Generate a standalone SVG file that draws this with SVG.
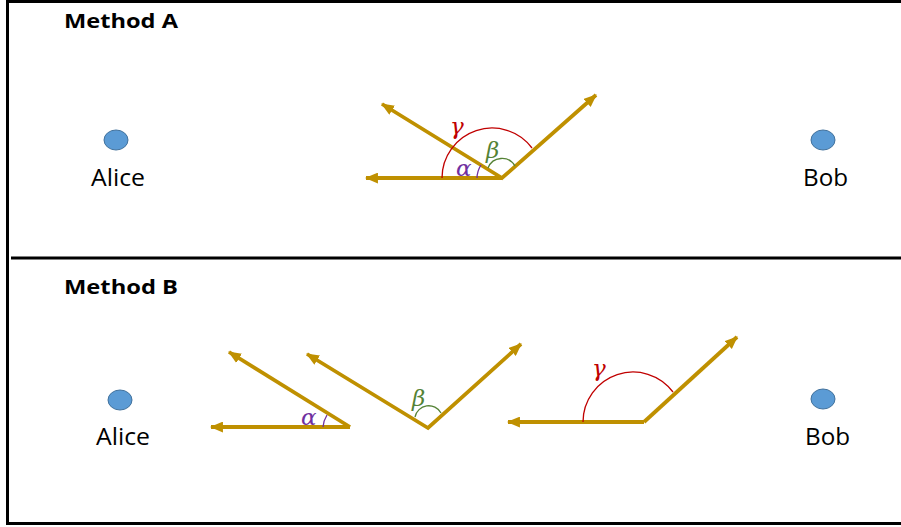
<svg xmlns="http://www.w3.org/2000/svg" width="901" height="527" viewBox="0 0 901 527">
<style>
.frame{stroke:#000;stroke-width:3;fill:none}
.arr{stroke:#BF9000;stroke-width:3.8;fill:none;stroke-linejoin:miter;marker-end:url(#ah)}
.v{stroke:#BF9000;stroke-width:3.8;fill:none;stroke-linejoin:miter;marker-start:url(#ahs);marker-end:url(#ah)}
.dot{fill:#5B9BD5;stroke:#41719C;stroke-width:1}
.name{font-family:"Open Sans","Liberation Sans",sans-serif;font-size:23px;fill:#000}
.title{font-family:"Open Sans","Liberation Sans",sans-serif;font-size:20px;font-weight:bold;fill:#000}
.greek{font-family:"DejaVu Serif","Liberation Serif",serif;font-style:italic;font-size:23px}
.ga{stroke:#C00000;stroke-width:1.3;fill:none}
.be{stroke:#548235;stroke-width:1.3;fill:none}
.al{stroke:#7030A0;stroke-width:1.3;fill:none}
</style>
<defs>
<marker id="ah" viewBox="0 0 12 10" refX="11" refY="5" markerWidth="13" markerHeight="11" markerUnits="userSpaceOnUse" orient="auto"><path d="M0,0 L12,5 L0,10 z" fill="#BF9000"/></marker>
<marker id="ahs" viewBox="0 0 12 10" refX="11" refY="5" markerWidth="13" markerHeight="11" markerUnits="userSpaceOnUse" orient="auto-start-reverse"><path d="M0,0 L12,5 L0,10 z" fill="#BF9000"/></marker>
</defs>
<rect width="901" height="527" fill="#fff"/>
<g id="frame">
<line class="frame" x1="6" y1="1.5" x2="901" y2="1.5"/>
<line class="frame" x1="7.5" y1="0" x2="7.5" y2="525"/>
<line class="frame" x1="6" y1="523.5" x2="901" y2="523.5"/>
<line class="frame" x1="11" y1="258" x2="901" y2="258"/>
</g>
<g id="titleA"><text class="title" x="64" y="28" textLength="114" lengthAdjust="spacingAndGlyphs">Method A</text></g>
<g id="titleB"><text class="title" x="64" y="294" textLength="114" lengthAdjust="spacingAndGlyphs">Method B</text></g>
<g id="aliceA"><ellipse class="dot" cx="116" cy="140" rx="12" ry="10"/><text class="name" x="91" y="186" textLength="54" lengthAdjust="spacingAndGlyphs">Alice</text></g>
<g id="bobA"><ellipse class="dot" cx="823" cy="140" rx="12" ry="10"/><text class="name" x="803" y="186" textLength="45" lengthAdjust="spacingAndGlyphs">Bob</text></g>
<g id="aliceB"><ellipse class="dot" cx="120" cy="400" rx="12" ry="10"/><text class="name" x="96" y="445" textLength="54" lengthAdjust="spacingAndGlyphs">Alice</text></g>
<g id="bobB"><ellipse class="dot" cx="823" cy="399" rx="12" ry="10"/><text class="name" x="805" y="445" textLength="45" lengthAdjust="spacingAndGlyphs">Bob</text></g>
<g id="connectors">
<line class="arr" x1="502" y1="178" x2="366" y2="178"/>
<polyline class="v" points="382,104 502,178 596,95"/>
<line class="arr" x1="350" y1="427" x2="211" y2="427"/>
<line class="arr" x1="350" y1="427" x2="229" y2="352"/>
<polyline class="v" points="307,354 428,428 521,344"/>
<line class="arr" x1="644" y1="422" x2="508" y2="422"/>
<line class="arr" x1="644" y1="422" x2="737" y2="337"/>
</g>
<g id="anglesA">
<path class="ga" d="M442,178 A50,50 0 0 1 532,148"/>
<path class="be" d="M488,168 A15,15 0 0 1 515,166"/>
<path class="al" d="M477,178 A25,25 0 0 1 481,165"/>
<text class="greek" x="450" y="134" fill="#C00000">γ</text>
<text class="greek" x="486" y="158" fill="#548235">β</text>
<text class="greek" x="456" y="176" fill="#7030A0">α</text>
</g>
<g id="anglesB">
<path class="al" d="M323,427 A27,27 0 0 1 327,415"/>
<path class="be" d="M415,417 A14,14 0 0 1 441,413"/>
<path class="ga" d="M583,422 A50,50 0 0 1 673,392"/>
<text class="greek" x="301" y="425" fill="#7030A0">α</text>
<text class="greek" x="412" y="406" fill="#548235">β</text>
<text class="greek" x="592" y="376" fill="#C00000">γ</text>
</g>
</svg>
